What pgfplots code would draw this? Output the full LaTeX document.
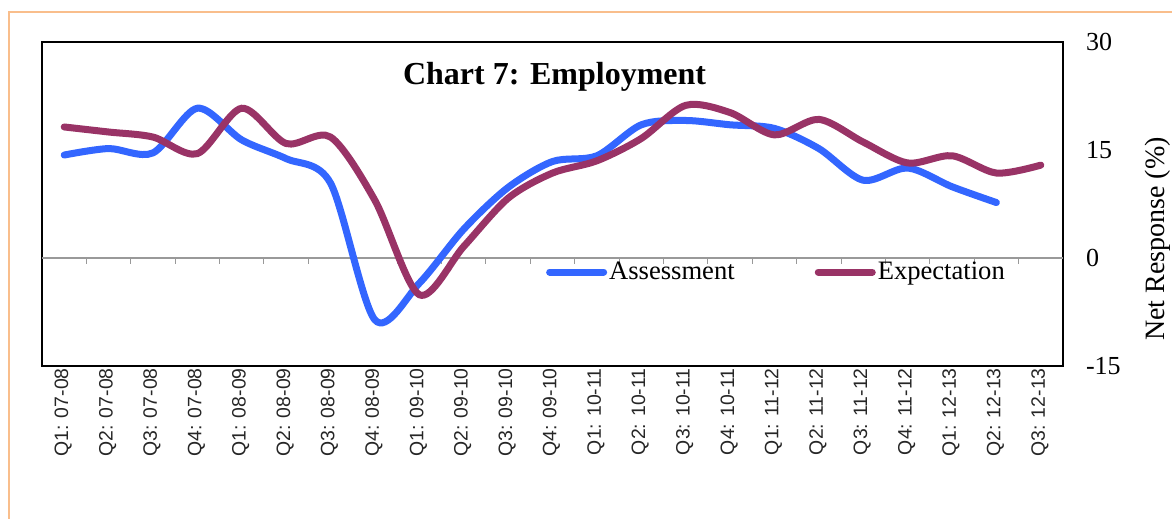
\documentclass[border=0pt]{standalone}
\usepackage{fontspec}
\setmainfont{Liberation Serif}
\newfontfamily\xfont{Liberation Sans}
\usepackage{pgfplots}
\pgfplotsset{compat=1.18}
\definecolor{assess}{HTML}{3366FF}
\definecolor{expect}{HTML}{993366}
\definecolor{orangeb}{HTML}{F9BE8C}
\begin{document}
\begin{tikzpicture}
\useasboundingbox (0pt,0pt) rectangle (586pt,259.5pt);
\draw[orangeb, line width=1.2pt] (4.5pt,0pt) -- (4.5pt,253.5pt) -- (586pt,253.5pt);
\begin{axis}[
  at={(21pt,76.5pt)}, anchor=south west,
  scale only axis, width=510.5pt, height=162pt,
  xmin=-0.5, xmax=22.5, ymin=-15, ymax=30,
  axis line style={black, line width=0.8pt},
  xtick={0,...,22},
  xticklabels={Q1: 07-08,Q2: 07-08,Q3: 07-08,Q4: 07-08,Q1: 08-09,Q2: 08-09,Q3: 08-09,Q4: 08-09,Q1: 09-10,Q2: 09-10,Q3: 09-10,Q4: 09-10,Q1: 10-11,Q2: 10-11,Q3: 10-11,Q4: 10-11,Q1: 11-12,Q2: 11-12,Q3: 11-12,Q4: 11-12,Q1: 12-13,Q2: 12-13,Q3: 12-13},
  xticklabel style={font=\xfont\fontsize{9.7}{10}\selectfont, text=black!85, rotate=90, anchor=east, inner sep=1pt, yshift=0.5pt},
  major tick length=0pt,
  ytick={-15,0,15,30},
  yticklabel pos=right,
  yticklabel style={font=\fontsize{13}{14}\selectfont, anchor=west, xshift=8pt},
  /pgf/number format/assume math mode=true,
  every axis y label/.style={at={(axis description cs:1,0.392)}, rotate=90, anchor=center, yshift=-47.5pt},
  ylabel={\fontsize{14}{15}\selectfont Net Response (\%)},
  clip=false,
  legend style={draw=none, fill=none, at={(axis description cs:0.4875,0.29)}, anchor=west,
    legend columns=2, font=\fontsize{13.3}{14}\selectfont,
    /tikz/every even column/.append style={column sep=39pt},
    nodes={inner xsep=1pt}},
  legend image code/.code={\draw[#1, line width=3.5pt, line cap=round] (0pt,0pt) -- (27pt,0pt);},
]
\draw[gray!80, line width=0.6pt] (axis cs:-0.5,0) -- (axis cs:22.5,0);
\pgfplotsinvokeforeach{0.5,1.5,...,21.5}{
  \draw[gray!80, line width=0.5pt] (axis cs:#1,0) -- ++(0pt,-3pt);
}
\addplot[assess, line width=3.5pt, smooth, tension=0.5, line cap=round] coordinates {
(0,14.3) (1,15.2) (2,14.6) (3,20.8) (4,16.4) (5,13.8) (6,10.4) (7,-8.6) (8,-3.5) (9,4.0) (10,9.8) (11,13.4) (12,14.2) (13,18.5) (14,19.1) (15,18.5) (16,18.0) (17,15.2) (18,10.8) (19,12.5) (20,9.9) (21,7.7)
};
\addlegendentry{Assessment}
\addplot[expect, line width=3.5pt, smooth, tension=0.5, line cap=round] coordinates {
(0,18.2) (1,17.5) (2,16.8) (3,14.5) (4,20.8) (5,15.9) (6,16.8) (7,8.0) (8,-5.1) (9,1.6) (10,8.3) (11,11.8) (12,13.5) (13,16.6) (14,21.2) (15,20.2) (16,17.1) (17,19.25) (18,16.1) (19,13.2) (20,14.2) (21,11.8) (22,12.9)
};
\addlegendentry{Expectation}
\node[font=\bfseries\fontsize{16}{18}\selectfont] at (axis description cs:0.502,0.892) {Chart 7: Employment};
\end{axis}
\end{tikzpicture}
\end{document}
